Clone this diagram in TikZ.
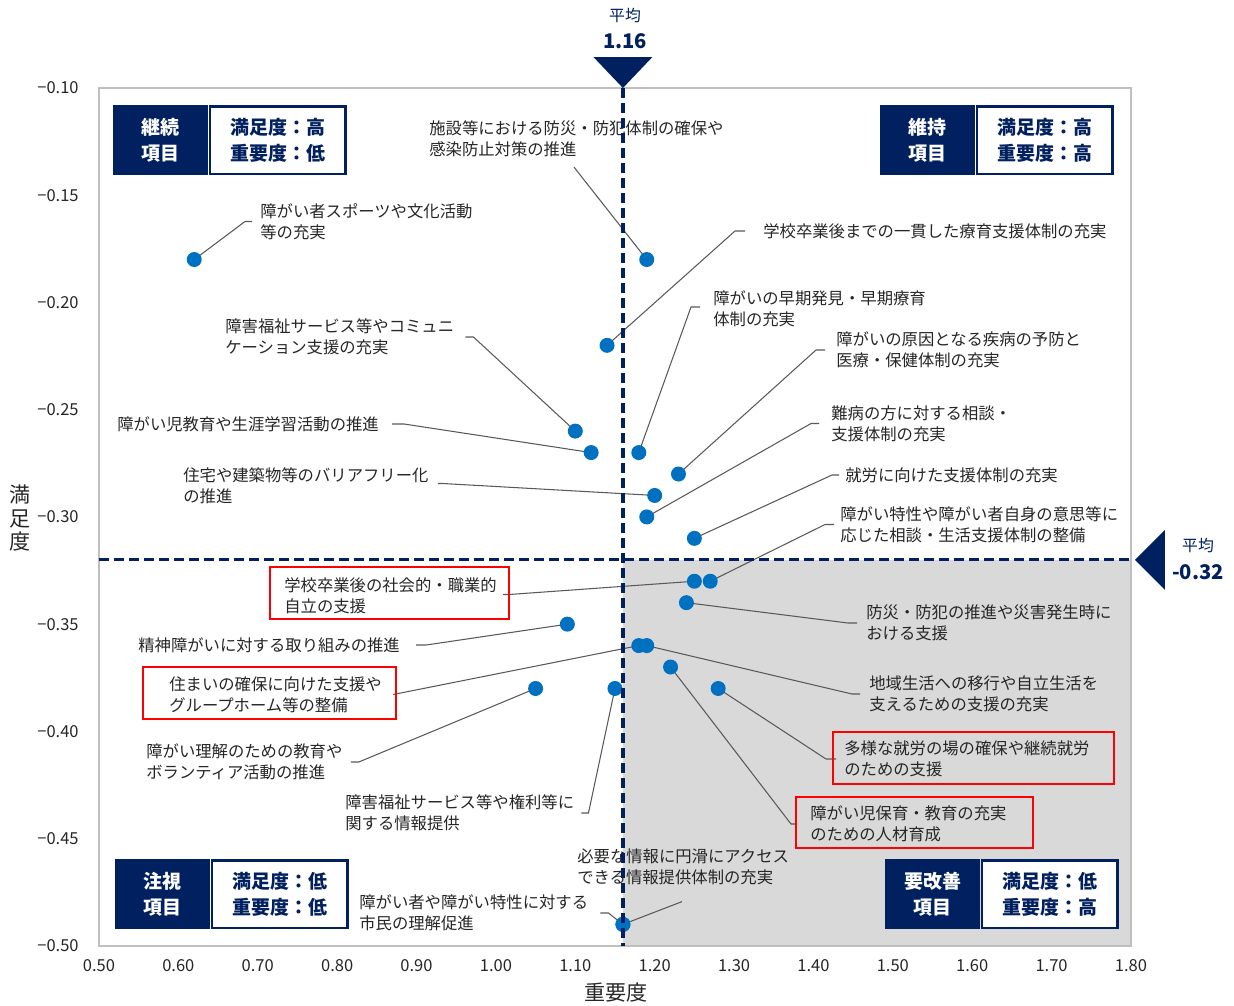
\documentclass[tikz,border=0pt]{standalone}
\usepackage{fontspec}
\setmainfont{Noto Sans CJK JP}
\usetikzlibrary{backgrounds}

\definecolor{qnavy}{RGB}{0,32,96}
\definecolor{dotblue}{RGB}{0,112,192}
\definecolor{shadegray}{RGB}{217,217,217}
\definecolor{framegray}{RGB}{191,191,191}
\definecolor{leadgray}{RGB}{89,89,89}

\begin{document}
\begin{tikzpicture}[
    %–––– LAYOUT UNITS: 1 unit = 1 px of the page ––––
    x=0.02cm, y=-0.02cm,
    datacs/.style = {shift={(-5.96cm,2.53cm)}, x=15.88cm, y=42.9cm},   % importance / satisfaction
    lab/.style    = {font=\fontsize{9.3}{12.2}\selectfont, text=black!85,
                     inner sep=0pt, align=left},
    redbox/.style = {draw=red, line width=1.1pt, minimum height=1.04cm, inner sep=0pt},
    ticklab/.style= {font=\fontsize{9.4}{11}\selectfont, text=black!85, inner sep=0pt},
    dot/.style    = {circle, fill=dotblue, minimum size=0.3cm, inner sep=0pt},
    leader/.style = {draw=leadgray, line width=0.6pt},
    avgline/.style= {draw=qnavy, line width=1.8pt, dash pattern=on 0.2cm off 0.1cm},
    qdark/.style  = {fill=qnavy, text=white, minimum width=1.9cm, minimum height=1.4cm,
                     align=center, inner sep=0pt,
                     font=\fontsize{10.8}{14.8}\selectfont\bfseries},
    qlight/.style = {qdark, fill=white, draw=qnavy, line width=1.5pt, text=qnavy,
                     minimum width=2.71cm, minimum height=1.35cm},
    avglab/.style = {text=qnavy, inner sep=0pt, font=\fontsize{9}{11}\selectfont},
    avgval/.style = {text=qnavy, inner sep=0pt, font=\fontsize{11.5}{13}\selectfont\bfseries},
]
\useasboundingbox (0,0) rectangle (1234,1005);

%–––– DATA POINTS ––––
\begin{scope}[datacs]
  \foreach \i/\vx/\vy in {
    1/0.62/-0.18, 2/1.19/-0.18, 3/1.14/-0.22, 4/1.10/-0.26, 5/1.12/-0.27,
    6/1.18/-0.27, 7/1.23/-0.28, 8/1.20/-0.29, 9/1.19/-0.30, 10/1.25/-0.31,
    11/1.27/-0.33, 12/1.25/-0.33, 13/1.24/-0.34, 14/1.09/-0.35, 15/1.18/-0.36,
    16/1.19/-0.36, 17/1.22/-0.37, 18/1.05/-0.38, 19/1.15/-0.38, 20/1.28/-0.38,
    21/1.16/-0.49, 22/1.16/-0.49}
    \node[dot] (d\i) at (\vx,\vy) {};

  %–––– TICK LABELS ––––
  \foreach \t [count=\k] in {0.50,0.60,0.70,0.80,0.90,1.00,1.10,1.20,1.30,1.40,1.50,1.60,1.70,1.80}
    \node[ticklab, yshift=-0.4cm] (xt\k) at (\t,-0.5) {\t};
  \foreach \t [count=\k] in {0.10,0.15,0.20,0.25,0.30,0.35,0.40,0.45,0.50}
    \node[ticklab, anchor=east, xshift=-0.4cm] (yt\k) at (0.5,-\t) {−\t};
\end{scope}

%–––– ITEM LABELS ––––
\node[lab, anchor=west] (l1)  at (260,221.5) {障がい者スポーツや文化活動\\等の充実};
\node[lab, anchor=west] (l2)  at (429,138.5) {施設等における防災・防犯体制の確保や\\感染防止対策の推進};
\node[lab, anchor=west] (l3)  at (763,231)   {学校卒業後までの一貫した療育支援体制の充実};
\node[lab, anchor=west] (l4)  at (225,337)   {障害福祉サービス等やコミュニ\\ケーション支援の充実};
\node[lab, anchor=west] (l5)  at (117,424)   {障がい児教育や生涯学習活動の推進};
\node[lab, anchor=west] (l6)  at (713,309)   {障がいの早期発見・早期療育\\体制の充実};
\node[lab, anchor=west] (l7)  at (836,350)   {障がいの原因となる疾病の予防と\\医療・保健体制の充実};
\node[lab, anchor=west] (l8)  at (183,485.5) {住宅や建築物等のバリアフリー化\\の推進};
\node[lab, anchor=west] (l9)  at (831,423.5) {難病の方に対する相談・\\支援体制の充実};
\node[lab, anchor=west] (l10) at (845,475)   {就労に向けた支援体制の充実};
\node[lab, anchor=west] (l11) at (840,524.5) {障がい特性や障がい者自身の意思等に\\応じた相談・生活支援体制の整備};
\node[lab, anchor=west] (l12) at (284,595.5) {学校卒業後の社会的・職業的\\自立の支援};
\node[lab, anchor=west] (l13) at (866,623)   {防災・防犯の推進や災害発生時に\\おける支援};
\node[lab, anchor=west] (l14) at (138,645)   {精神障がいに対する取り組みの推進};
\node[lab, anchor=west] (l15) at (169,694.5) {住まいの確保に向けた支援や\\グループホーム等の整備};
\node[lab, anchor=west] (l16) at (869,694)   {地域生活への移行や自立生活を\\支えるための支援の充実};
\node[lab, anchor=west] (l17) at (810,824)   {障がい児保育・教育の充実\\のための人材育成};
\node[lab, anchor=west] (l18) at (146,762)   {障がい理解のための教育や\\ボランティア活動の推進};
\node[lab, anchor=west] (l19) at (345,813)   {障害福祉サービス等や権利等に\\関する情報提供};
\node[lab, anchor=west] (l20) at (844,759)   {多様な就労の場の確保や継続就労\\のための支援};
\node[lab, anchor=west] (l21) at (577,867)   {必要な情報に円滑にアクセス\\できる情報提供体制の充実};
\node[lab, anchor=west] (l22) at (359,913)   {障がい者や障がい特性に対する\\市民の理解促進};

%–––– HIGHLIGHT FRAMES ––––
\node[redbox, minimum width=4.78cm, anchor=west] (b12) at ([shift={(-15,-2.5)}]l12.west) {};
\node[redbox, minimum width=5.06cm, anchor=west] (b15) at ([shift={(-27,-1.5)}]l15.west) {};
\node[redbox, minimum width=4.74cm, minimum height=1.02cm, anchor=west] (b17) at ([shift={(-15,-1.5)}]l17.west) {};
\node[redbox, minimum width=5.62cm, anchor=west] (b20) at ([shift={(-12,-1)}]l20.west) {};

%–––– QUADRANT BOXES ––––
\node[qdark, anchor=north west] (q1) at (113,105) {継続\\項目};
\node[qlight, anchor=west] (q1r) at (q1.east) {満足度：高\\重要度：低};
\node[qdark, anchor=north west] (q2) at (880,105) {維持\\項目};
\node[qlight, anchor=west] (q2r) at (q2.east) {満足度：高\\重要度：高};
\node[qdark, anchor=north west] (q3) at (115,859) {注視\\項目};
\node[qlight, anchor=west] (q3r) at (q3.east) {満足度：低\\重要度：低};
\node[qdark, anchor=north west] (q4) at (885,859) {要改善\\項目};
\node[qlight, anchor=west] (q4r) at (q4.east) {満足度：低\\重要度：高};

%–––– PLOT AREA ––––
\begin{scope}[on background layer, datacs]
  \fill[shadegray] (1.16,-0.32) rectangle (1.8,-0.5);
  \draw[framegray, line width=0.8pt] (0.5,-0.1) rectangle (1.8,-0.5);
\end{scope}

%–––– LEADER LINES ––––
\begin{scope}[on background layer]
  \foreach \i/\a/\ex/\sx/\yy in {
    1/west/-15/-8/0, 2/south west/145/145/10, 3/west/-28/-18/0, 4/east/19/11/0,
    5/east/25/13/0, 6/west/-22/-13/-2, 7/west/-20/-11/0, 8/east/14/9/-2,
    9/west/-20/-12/0, 10/west/-13/-6/0, 11/west/-15/-6/0, 12/east/12/6/-1,
    13/west/-18/-9/0, 14/east/26/16/0, 15/east/11/11/0, 16/west/-17/-9/0,
    17/west/-19/-13/0, 18/east/16/8/0, 19/east/14/7/0, 20/west/-18/-8/0,
    21/south west/105/105/16, 22/east/20/12/0}
    \draw[leader] (d\i.center) -- ([shift={(\ex,\yy)}]l\i.\a) -- ([shift={(\sx,\yy)}]l\i.\a);
\end{scope}

%–––– AVERAGE LINES ––––
\begin{scope}[datacs]
  \draw[avgline] (1.16,-0.1) -- (1.16,-0.5);
  \draw[avgline] (0.5,-0.32) -- (1.8,-0.32);
  \fill[qnavy] (1.16,-0.1) -- ++(-0.59cm,0.62cm) -- ++(1.18cm,0) -- cycle;
  \fill[qnavy] (1.8,-0.32) ++(0.08cm,0) -- ++(0.6cm,0.6cm) -- ++(0,-1.2cm) -- cycle;
\end{scope}
\node[avglab] (avgxlab) at (625,16)  {平均};
\node[avgval] (avgxval) at (625,41)  {1.16};
\node[avglab] (avgylab) at (1198,546) {平均};
\node[avgval] (avgyval) at (1198,572) {-0.32};

%–––– AXIS TITLES ––––
\node[text=black!85, font=\fontsize{12}{13}\selectfont] (xtitle) at (616,992) {重要度};
\node[text=black!85, font=\fontsize{12}{13.2}\selectfont, align=center, inner sep=0pt] (ytitle) at (20,518) {満\\足\\度};
\end{tikzpicture}
\end{document}
